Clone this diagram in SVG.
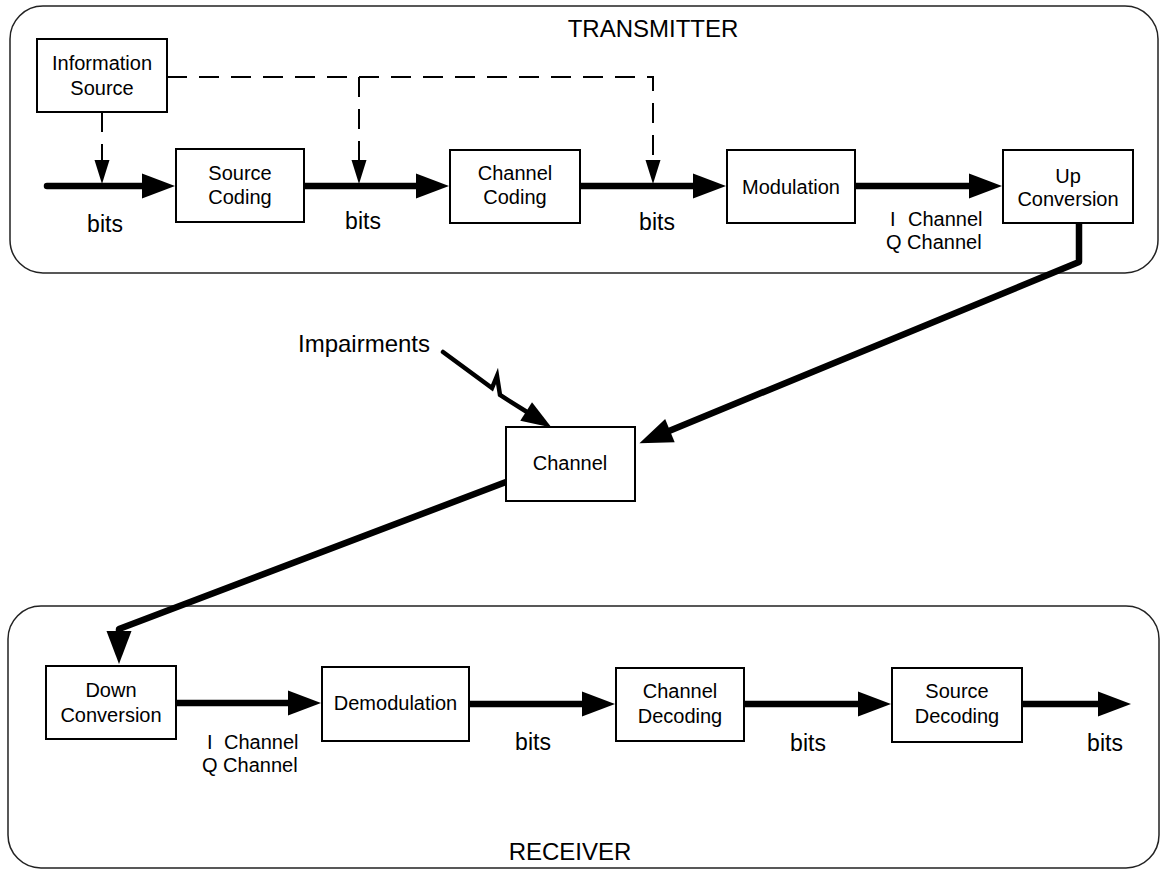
<svg xmlns="http://www.w3.org/2000/svg" width="1160" height="870" viewBox="0 0 1160 870">
<style>
.frame{fill:none;stroke:#222;stroke-width:1.5}
.box{fill:#fff;stroke:#000;stroke-width:2}
.t{font-family:"Liberation Sans",Arial,sans-serif;font-size:20px;fill:#000;text-anchor:middle}
.bits{font-family:"Liberation Sans",Arial,sans-serif;font-size:23px;fill:#000;text-anchor:middle}
.title{font-family:"Liberation Sans",Arial,sans-serif;font-size:24px;fill:#000;text-anchor:middle}
.lbl{font-family:"Liberation Sans",Arial,sans-serif;font-size:20px;fill:#000}
.thick{fill:none;stroke:#000;stroke-width:6.5;stroke-linejoin:round}
.dash{fill:none;stroke:#000;stroke-width:2;stroke-dasharray:20 12}
</style>
<defs>
<marker id="ah" markerUnits="userSpaceOnUse" markerWidth="34" markerHeight="26" refX="1" refY="12.5" orient="auto" overflow="visible">
<path d="M0,0 L33,12.5 L0,25 z" fill="#000"/>
</marker>
<marker id="ahs" markerUnits="userSpaceOnUse" markerWidth="26" markerHeight="16" refX="1" refY="7.5" orient="auto" overflow="visible">
<path d="M0,0 L24,7.5 L0,15 z" fill="#000"/>
</marker>
<marker id="ahm" markerUnits="userSpaceOnUse" markerWidth="32" markerHeight="24" refX="1" refY="11" orient="auto" overflow="visible">
<path d="M0,0 L30,11 L0,22 z" fill="#000"/>
</marker>
</defs>

<g id="transmitter">
<rect class="frame" x="10" y="6" width="1148" height="267" rx="33" ry="33"/>
<text class="title" x="653" y="37">TRANSMITTER</text>
</g>
<g id="receiver">
<rect class="frame" x="8" y="606" width="1151" height="262" rx="33" ry="33"/>
<text class="title" x="570" y="860">RECEIVER</text>
</g>

<g id="connectors">
<path class="dash" d="M167,77 H653 V161" marker-end="url(#ahs)"/>
<path class="dash" d="M359,77 V161" marker-end="url(#ahs)"/>
<path class="dash" d="M102,112 V161" marker-end="url(#ahs)"/>
<line class="thick" x1="47" y1="186" x2="143" y2="186" stroke-linecap="round" marker-end="url(#ah)"/>
<line class="thick" x1="304" y1="186" x2="417" y2="186" marker-end="url(#ah)"/>
<line class="thick" x1="580" y1="186" x2="694" y2="186" marker-end="url(#ah)"/>
<line class="thick" x1="855" y1="186" x2="970" y2="186" marker-end="url(#ah)"/>
<path class="thick" d="M1079,223 V262 L669,431" marker-end="url(#ah)"/>
<path fill="none" stroke="#000" stroke-width="4.5" stroke-linejoin="miter" stroke-linecap="round" d="M443,352 L492,388 L497,376 L500,395 L527,412" marker-end="url(#ahm)"/>
<path class="thick" d="M506,482 L119,629 L119,632" marker-end="url(#ah)"/>
<line class="thick" x1="176" y1="703" x2="289" y2="703" marker-end="url(#ah)"/>
<line class="thick" x1="469" y1="704" x2="583" y2="704" marker-end="url(#ah)"/>
<line class="thick" x1="744" y1="704" x2="859" y2="704" marker-end="url(#ah)"/>
<line class="thick" x1="1022" y1="704" x2="1099" y2="704" marker-end="url(#ah)"/>
<text class="bits" x="105" y="232">bits</text>
<text class="bits" x="363" y="229">bits</text>
<text class="bits" x="657" y="230">bits</text>
<text class="lbl" y="226"><tspan x="890">I</tspan><tspan x="908">Channel</tspan></text>
<text class="lbl" x="886" y="249">Q Channel</text>
<text class="title" x="298" y="352" style="text-anchor:start">Impairments</text>
<text class="lbl" y="749"><tspan x="207">I</tspan><tspan x="224">Channel</tspan></text>
<text class="lbl" x="202" y="772">Q Channel</text>
<text class="bits" x="533" y="750">bits</text>
<text class="bits" x="808" y="751">bits</text>
<text class="bits" x="1105" y="751">bits</text>
</g>

<g id="info-source">
<rect class="box" x="37" y="39" width="130" height="73"/>
<text class="t" x="102" y="70">Information</text>
<text class="t" x="102" y="95">Source</text>
</g>
<g id="source-coding">
<rect class="box" x="176" y="149" width="128" height="73"/>
<text class="t" x="240" y="180">Source</text>
<text class="t" x="240" y="204">Coding</text>
</g>
<g id="channel-coding">
<rect class="box" x="450" y="150" width="130" height="73"/>
<text class="t" x="515" y="180">Channel</text>
<text class="t" x="515" y="204">Coding</text>
</g>
<g id="modulation">
<rect class="box" x="727" y="150" width="128" height="73"/>
<text class="t" x="791" y="194">Modulation</text>
</g>
<g id="up-conversion">
<rect class="box" x="1003" y="150" width="130" height="73"/>
<text class="t" x="1068" y="183">Up</text>
<text class="t" x="1068" y="206">Conversion</text>
</g>
<g id="channel">
<rect class="box" x="506" y="427" width="129" height="74"/>
<text class="t" x="570" y="470">Channel</text>
</g>
<g id="down-conversion">
<rect class="box" x="46" y="666" width="130" height="73"/>
<text class="t" x="111" y="697">Down</text>
<text class="t" x="111" y="722">Conversion</text>
</g>
<g id="demodulation">
<rect class="box" x="322" y="667" width="147" height="74"/>
<text class="t" x="395.5" y="710">Demodulation</text>
</g>
<g id="channel-decoding">
<rect class="box" x="616" y="668" width="128" height="73"/>
<text class="t" x="680" y="698">Channel</text>
<text class="t" x="680" y="723">Decoding</text>
</g>
<g id="source-decoding">
<rect class="box" x="892" y="668" width="130" height="74"/>
<text class="t" x="957" y="698">Source</text>
<text class="t" x="957" y="723">Decoding</text>
</g>
</svg>
